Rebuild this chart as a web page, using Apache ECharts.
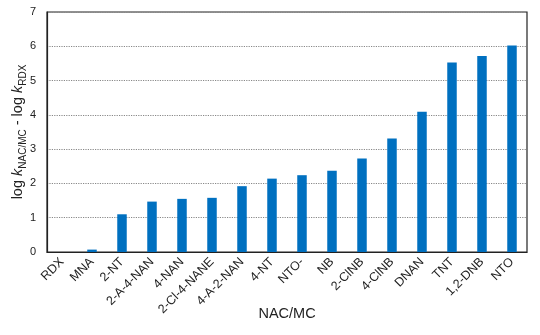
<!DOCTYPE html>
<html><head><meta charset="utf-8">
<script src="https://cdn.jsdelivr.net/npm/echarts@6/dist/echarts.min.js"></script>
<style>html,body{margin:0;padding:0;background:#fff}#c{width:540px;height:335px}</style>
</head><body><div id="c"></div>
<script>
const categories = ['RDX','MNA','2-NT','2-A-4-NAN','4-NAN','2-Cl-4-NANE','4-A-2-NAN','4-NT','NTO-','NB','2-ClNB','4-ClNB','DNAN','TNT','1,2-DNB','NTO'];
const values = [0, 0.07, 1.10, 1.47, 1.55, 1.58, 1.92, 2.14, 2.24, 2.37, 2.73, 3.31, 4.09, 5.53, 5.72, 6.02];
const yTicks = [0,1,2,3,4,5,6,7];

const chart = echarts.init(document.getElementById('c'), null, {renderer:'canvas'});
const font = 'Liberation Sans, Arial, sans-serif';
chart.setOption({
  animation:false,
  textStyle:{fontFamily:font},
  grid:{left:47,right:13,top:12,bottom:83,containLabel:false,outerBoundsMode:'none',show:true,borderColor:'#222',borderWidth:1.2,backgroundColor:'transparent'},
  xAxis:{
    type:'category', data:categories,
    axisLine:{show:true,lineStyle:{color:'#222',width:1.2}},
    axisTick:{show:false},
    axisLabel:{interval:0,rotate:45,fontSize:12.5,color:'#222',fontFamily:font,margin:8},
    name:'NAC/MC', nameLocation:'middle', nameGap:54, nameMoveOverlap:false,
    nameTextStyle:{fontSize:14.5,color:'#222',fontFamily:font}
  },
  yAxis:{
    type:'value', min:0, max:7, interval:1,
    axisLine:{show:true,lineStyle:{color:'#222',width:1.2}},
    axisTick:{show:false},
    axisLabel:{fontSize:11,color:'#222',fontFamily:font,margin:11,
      formatter:function(v){return yTicks.indexOf(v)>=0?String(v):'';}},
    splitLine:{show:true,lineStyle:{color:'#888',type:'dotted',width:1.2}},
    name:'{a|log }{k|k}{s|NAC/MC}{a| - log }{k|k}{s|RDX}',
    nameLocation:'middle', nameGap:22, nameRotate:90, nameMoveOverlap:false,
    nameTextStyle:{
      color:'#222',fontFamily:font,
      rich:{
        a:{fontSize:14.5,color:'#222',fontFamily:font,verticalAlign:'bottom',lineHeight:16},
        k:{fontSize:14.5,color:'#222',fontFamily:font,fontStyle:'italic',verticalAlign:'bottom',lineHeight:16},
        s:{fontSize:10,color:'#222',fontFamily:font,verticalAlign:'bottom',lineHeight:11,padding:[0,0,-3,0]}
      }
    }
  },
  series:[{
    type:'bar', data:values, barWidth:9.5,
    itemStyle:{color:'#0070C0'}
  }]
});
</script></body></html>
